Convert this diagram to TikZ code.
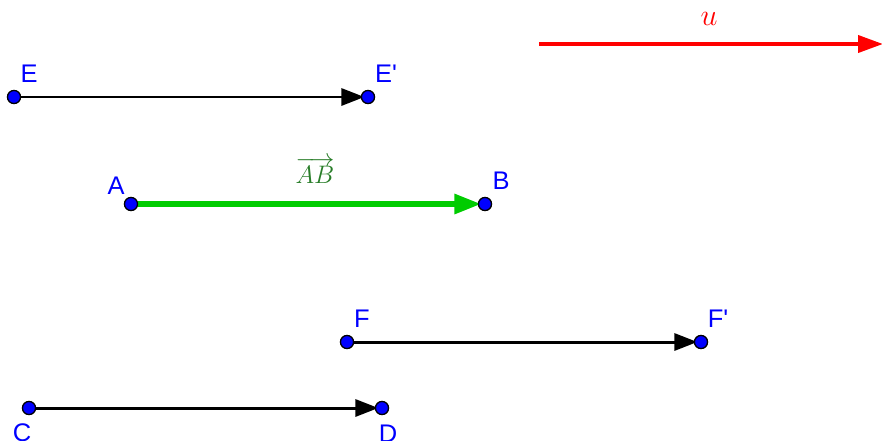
\documentclass[tikz,border=0pt]{standalone}
\usepackage{amsmath,amssymb}
\usepackage{xcolor}
\usepackage{fontspec}
\newfontfamily\lblfont{Liberation Sans}
\usepackage{tikz}
\usetikzlibrary{arrows.meta,positioning,calc}

\definecolor{ptblue}{RGB}{0,0,255}
\definecolor{vecgreen}{RGB}{0,204,0}
\definecolor{txtgreen}{RGB}{40,125,40}
\definecolor{vecred}{RGB}{255,0,0}

\begin{document}
\begin{tikzpicture}[
    pt/.style={circle, draw=black, fill=ptblue, line width=0.7pt, minimum size=0.26cm, inner sep=0pt},
    lbl/.style={font=\lblfont\fontsize{14.5}{16}\selectfont, text=ptblue, inner sep=0pt},
    arr/.style={-{Triangle[length=0.46cm, width=0.34cm]}, line width=1.7pt, black, shorten >=-2pt},
    garr/.style={-{Triangle[length=0.54cm, width=0.38cm]}, line width=3.3pt, vecgreen, shorten >=-2pt},
    rarr/.style={-{Triangle[length=0.5cm, width=0.34cm]}, line width=2.2pt, vecred}
]
\useasboundingbox (0,0) rectangle (17.64,-8.8);

% vector u
\coordinate (u0) at (10.78,-0.88);
\coordinate (u1) at (17.66,-0.88);
\draw[rarr] (u0)--(u1);
\node[text=vecred, font=\fontsize{17}{20}\selectfont] (lu) at (14.18,-0.38) {$u$};

% E -> E'
\node[pt] (E) at (0.28,-1.94) {};
\node[pt] (Ep) at (7.36,-1.94) {};
\node[lbl] (lE) at (0.58,-1.48) {E};
\node[lbl] (lEp) at (7.72,-1.48) {E'};

% A -> B
\node[pt] (A) at (2.62,-4.08) {};
\node[pt] (B) at (9.70,-4.08) {};
\node[lbl] (lA) at (2.32,-3.72) {A};
\node[lbl] (lB) at (10.02,-3.62) {B};
\node[text=txtgreen, font=\fontsize{15}{18}\selectfont] (lAB) at (6.30,-3.40) {$\overrightarrow{AB}$};

% F -> F'
\node[pt] (F) at (6.94,-6.84) {};
\node[pt] (Fp) at (14.02,-6.84) {};
\node[lbl] (lF) at (7.24,-6.38) {F};
\node[lbl] (lFp) at (14.36,-6.38) {F'};

% C -> D
\node[pt] (C) at (0.58,-8.16) {};
\node[pt] (D) at (7.64,-8.16) {};
\node[lbl] (lC) at (0.44,-8.66) {C};
\node[lbl] (lD) at (7.76,-8.68) {D};

\draw[arr] (E)--(Ep); \draw[garr] (A)--(B); \draw[arr] (F)--(Fp); \draw[arr] (C)--(D);
\foreach \p in {E,Ep,A,B,F,Fp,C,D} \node[pt] at (\p) {};

\end{tikzpicture}
\end{document}
